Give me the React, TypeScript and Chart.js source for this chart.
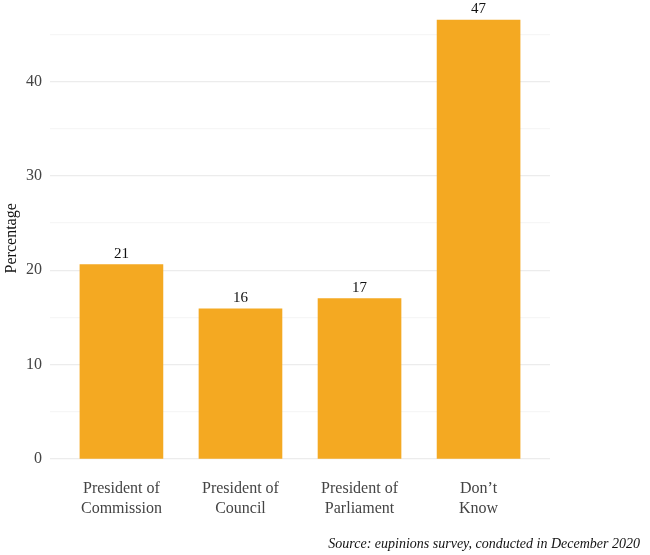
import React, { useEffect, useRef } from "react";
import { Chart, registerables } from "chart.js";

Chart.register(...registerables);

const categories: string[][] = [
  ["President of", "Commission"],
  ["President of", "Council"],
  ["President of", "Parliament"],
  ["Don\u2019t", "Know"],
];
const positions = [1, 2, 3, 4];
const values = [20.6, 15.9, 17.0, 46.5];
const valueLabels = ["21", "16", "17", "47"];
const yTickLabels: Record<number, string> = { 0: "0", 10: "10", 20: "20", 30: "30", 40: "40" };
const sourceText = "Source: eupinions survey, conducted in December 2020";

const FONT = "'Liberation Serif', 'DejaVu Serif', serif";

export default function App() {
  const ref = useRef<HTMLCanvasElement>(null);
  useEffect(() => {
    if (!ref.current) return;
    const extras = {
      id: "extras",
      afterDatasetsDraw(chart: any) {
        const ctx = chart.ctx;
        const meta = chart.getDatasetMeta(0);
        ctx.save();
        ctx.fillStyle = "#111";
        ctx.font = `15px ${FONT}`;
        ctx.textAlign = "center";
        ctx.textBaseline = "bottom";
        meta.data.forEach((bar: any, i: number) => {
          ctx.fillText(valueLabels[i], bar.x, bar.y - 3);
        });
        ctx.font = `italic 14px ${FONT}`;
        ctx.textAlign = "right";
        ctx.textBaseline = "middle";
        ctx.fillStyle = "#111";
        ctx.fillText(sourceText, 640, 544);
        ctx.restore();
      },
    };
    const chart = new Chart(ref.current, {
      type: "bar",
      data: {
        datasets: [
          {
            data: positions.map((p, i) => ({ x: p, y: values[i] })),
            backgroundColor: "#F4A922",
            barThickness: 83,
          },
        ],
      },
      options: {
        animation: false,
        responsive: false,
        maintainAspectRatio: false,
        layout: { padding: { top: 0, right: 100, bottom: 0, left: 0 } },
        plugins: { legend: { display: false }, tooltip: { enabled: false } },
        scales: {
          x: {
            type: "linear",
            min: 0.4,
            max: 4.6,
            offset: false,
            afterBuildTicks: (s: any) => {
              s.ticks = positions.map((v) => ({ value: v }));
            },
            afterFit: (s: any) => {
              s.height = 96;
            },
            grid: { display: false, offset: false },
            border: { display: false },
            ticks: {
              autoSkip: false,
              maxRotation: 0,
              padding: 11,
              color: "#444",
              font: { family: FONT, size: 16, lineHeight: 1.3 },
              callback: (v: any) => categories[positions.indexOf(Number(v))] ?? "",
            },
          },
          y: {
            min: 0,
            max: 46.75,
            afterFit: (s: any) => {
              s.width = 50;
            },
            afterBuildTicks: (s: any) => {
              s.ticks = [0, 5, 10, 15, 20, 25, 30, 35, 40, 45].map((v) => ({ value: v }));
            },
            border: { display: false },
            grid: {
              drawTicks: false,
              color: (c: any) => (c.tick && c.tick.value % 10 === 0 ? "#ececec" : "#f6f6f6"),
              lineWidth: 1.2,
            },
            ticks: {
              padding: 8,
              color: "#444",
              font: { family: FONT, size: 16 },
              callback: (v: any) => yTickLabels[Number(v)] ?? "",
            },
            title: {
              display: true,
              text: "Percentage",
              color: "#111",
              font: { family: FONT, size: 16 },
              padding: { top: 2, bottom: 0 },
            },
          },
        },
      },
      plugins: [extras],
    } as any);
    return () => chart.destroy();
  }, []);
  return (
    <div style={{ position: "absolute", left: 0, top: 0, width: 650, height: 555, background: "#fff" }}>
      <canvas ref={ref} width={650} height={555} style={{ width: 650, height: 555 }} />
    </div>
  );
}
